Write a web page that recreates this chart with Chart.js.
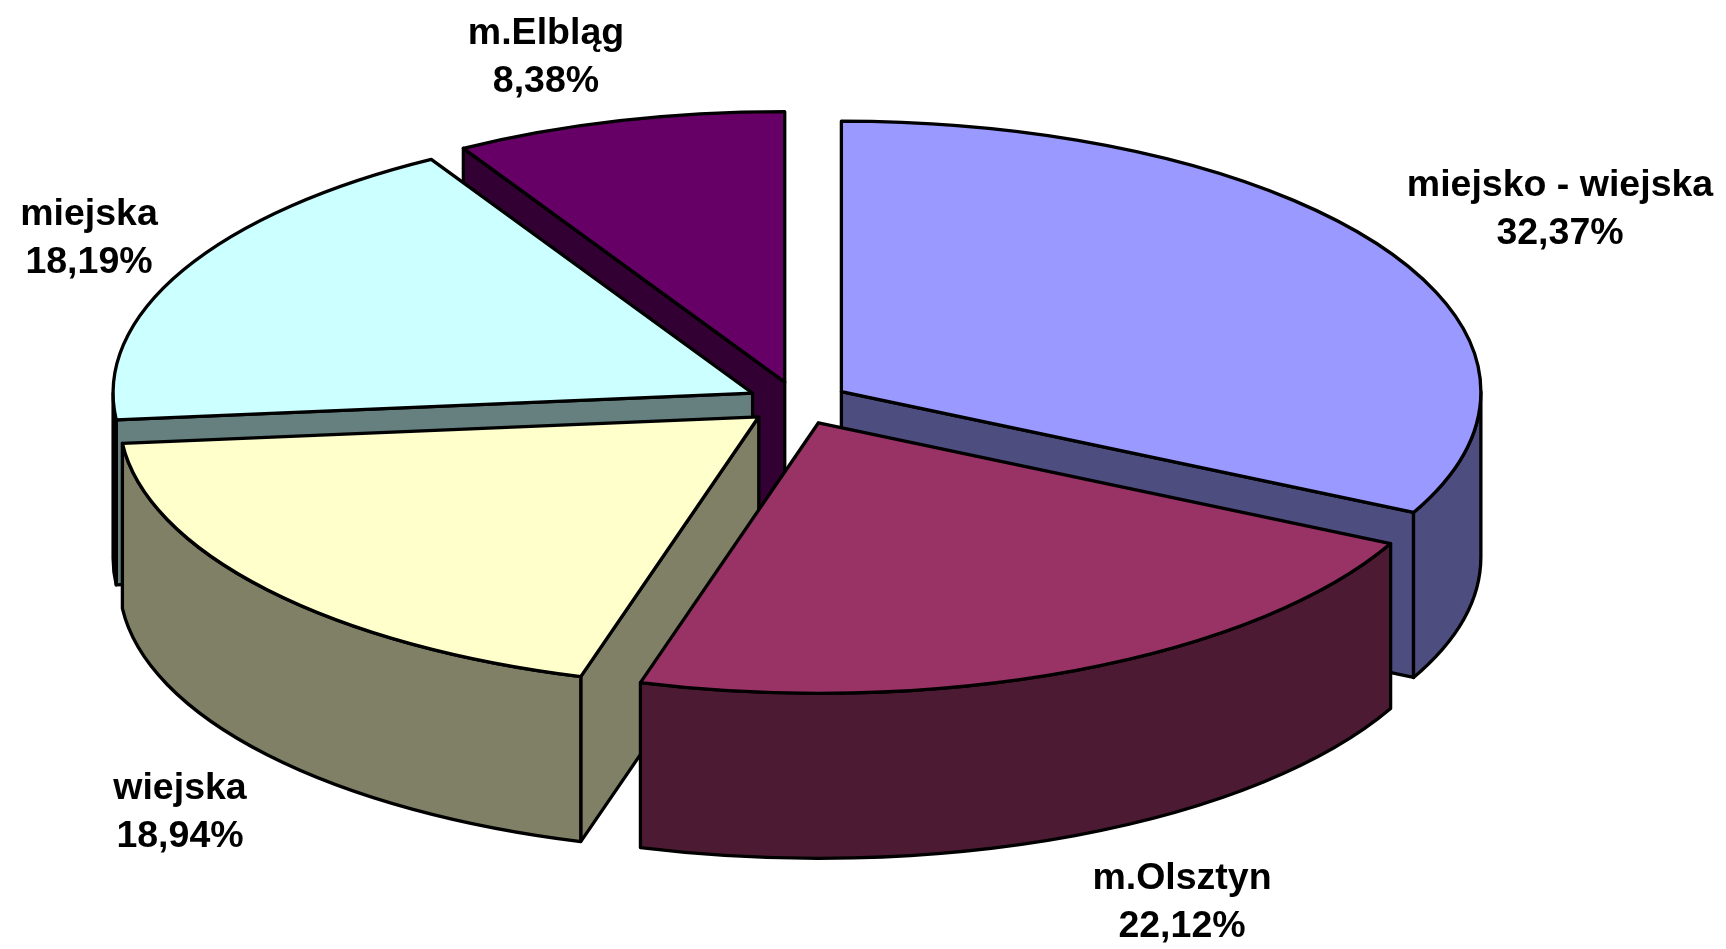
<!DOCTYPE html>
<html>
<head>
<meta charset="utf-8">
<script src="https://cdn.jsdelivr.net/npm/chart.js@4/dist/chart.umd.min.js"></script>
<style>
    html, body { margin: 0; padding: 0; background: #fff; }
    canvas { display: block; }
</style>
</head>
<body>
<canvas id="pieChart" width="1726" height="949"></canvas>
<script>
var categories = ["miejsko - wiejska", "m.Olsztyn", "wiejska", "miejska", "m.Elbląg"];
var shares = [32.37, 22.12, 18.94, 18.19, 8.38];
var shareLabels = ["32,37%", "22,12%", "18,94%", "18,19%", "8,38%"];
var topColors = ["#9999FF", "#993366", "#FFFFCC", "#CCFFFF", "#660066"];
var wallColors = ["#4D4D80", "#4D1A33", "#808066", "#668080", "#330033"];

// back to front, the slices overlap each other
var paintOrder = [4, 3, 0, 2, 1];
// centre of each two line label on the page
var labelSpots = [[1560, 210], [1182, 903], [180, 813], [89, 239], [546, 58]];

var tilt = 0.423;
var depth = 165;
var explode = 51;

var pie3d = {
    id: 'pie3d',
    beforeDatasetDraw: function (chart, args) {
        var ctx = chart.ctx;
        var arcs = args.meta.data;

        paintOrder.forEach(function (i) {
            var arc = arcs[i];
            var a = arc.startAngle;
            var b = arc.endAngle;
            var mid = (a + b) / 2;
            var r = arc.outerRadius;
            var cx = arc.x + Math.cos(mid) * explode;
            var cy = arc.y + Math.sin(mid) * explode * tilt;

            ctx.save();
            ctx.fillStyle = wallColors[i];
            ctx.strokeStyle = "#000";
            ctx.lineWidth = 3.3;
            ctx.lineJoin = "round";

            // flat side of the slice, only when it faces the viewer
            if (Math.cos(a) < -0.001) sideWall(ctx, cx, cy, r, a);
            if (Math.cos(b) > 0.001) sideWall(ctx, cx, cy, r, b);

            // round side, only the part in front
            outerWall(ctx, cx, cy, r, a, b);
            outerWall(ctx, cx, cy, r, a - 2 * Math.PI, b - 2 * Math.PI);

            // top face: the library's own arc, squashed and pulled out
            ctx.save();
            ctx.translate(cx, cy);
            ctx.scale(1, tilt);
            ctx.translate(-arc.x, -arc.y);
            arc.draw(ctx, chart.chartArea);
            ctx.restore();

            ctx.beginPath();
            ctx.moveTo(cx, cy);
            ctx.ellipse(cx, cy, r, r * tilt, 0, a, b);
            ctx.closePath();
            ctx.stroke();
            ctx.restore();
        });
        return false;
    },
    afterDraw: function (chart) {
        var ctx = chart.ctx;
        ctx.save();
        ctx.fillStyle = "#000";
        ctx.font = "bold 37.5px 'Liberation Sans', Arial, sans-serif";
        ctx.textAlign = "center";
        ctx.textBaseline = "middle";
        categories.forEach(function (name, i) {
            ctx.fillText(name, labelSpots[i][0], labelSpots[i][1] - 24);
            ctx.fillText(shareLabels[i], labelSpots[i][0], labelSpots[i][1] + 24);
        });
        ctx.restore();
    }
};

function sideWall(ctx, cx, cy, r, angle) {
    var ex = cx + Math.cos(angle) * r;
    var ey = cy + Math.sin(angle) * r * tilt;
    ctx.beginPath();
    ctx.moveTo(cx, cy);
    ctx.lineTo(ex, ey);
    ctx.lineTo(ex, ey + depth);
    ctx.lineTo(cx, cy + depth);
    ctx.closePath();
    ctx.fill();
    ctx.stroke();
}

function outerWall(ctx, cx, cy, r, a, b) {
    var from = Math.max(a, 0);
    var to = Math.min(b, Math.PI);
    if (to <= from) return;
    ctx.beginPath();
    ctx.ellipse(cx, cy, r, r * tilt, 0, from, to);
    ctx.ellipse(cx, cy + depth, r, r * tilt, 0, to, from, true);
    ctx.closePath();
    ctx.fill();
    ctx.stroke();
}

new Chart(document.getElementById("pieChart"), {
    type: 'pie',
    data: {
        labels: categories,
        datasets: [{
            data: shares,
            backgroundColor: topColors,
            borderWidth: 0,
            clip: false
        }]
    },
    options: {
        responsive: false,
        animation: false,
        radius: 639.5,
        layout: { padding: { left: 0, top: 0, right: 130, bottom: 143 } },
        plugins: {
            legend: { display: false },
            tooltip: { enabled: false }
        }
    },
    plugins: [pie3d]
});
</script>
</body>
</html>
